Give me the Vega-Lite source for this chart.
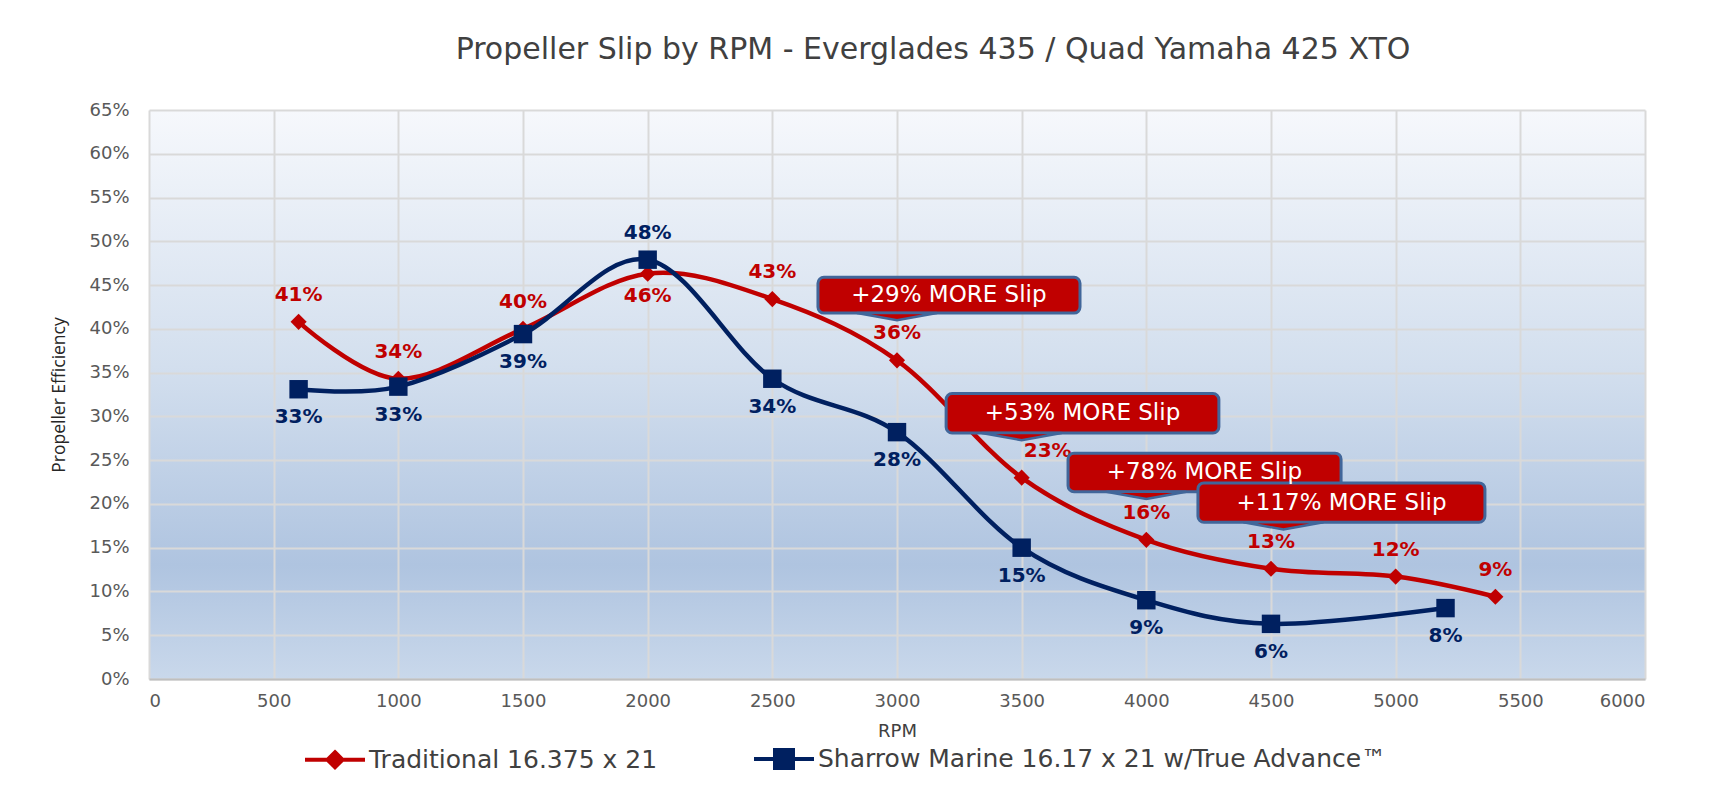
{
  "$schema": "https://vega.github.io/schema/vega-lite/v6.json",
  "width": 1496,
  "height": 569,
  "autosize": {"type": "none"},
  "padding": {"left": 149, "top": 110, "right": 82, "bottom": 116},
  "background": "white",
  "view": {
    "stroke": null,
    "fill": {
      "gradient": "linear", "x1": 0, "y1": 0, "x2": 0, "y2": 1,
      "stops": [
        {"offset": 0, "color": "#F6F8FC"},
        {"offset": 0.45, "color": "#D3DFEE"},
        {"offset": 0.8, "color": "#AFC4E0"},
        {"offset": 1, "color": "#C9D8EB"}
      ]
    }
  },
  "title": {
    "text": "Propeller Slip by RPM - Everglades 435 / Quad Yamaha 425 XTO",
    "font": "DejaVu Sans", "fontSize": 30, "fontWeight": "normal", "color": "#404040",
    "anchor": "middle", "dx": 36, "offset": 36
  },
  "datasets": {
    "slip": [
      {"series": "Traditional 16.375 x 21", "rpm": 600, "slip": 0.408},
      {"series": "Traditional 16.375 x 21", "rpm": 1000, "slip": 0.343},
      {"series": "Traditional 16.375 x 21", "rpm": 1500, "slip": 0.400},
      {"series": "Traditional 16.375 x 21", "rpm": 2000, "slip": 0.463},
      {"series": "Traditional 16.375 x 21", "rpm": 2500, "slip": 0.434},
      {"series": "Traditional 16.375 x 21", "rpm": 3000, "slip": 0.364},
      {"series": "Traditional 16.375 x 21", "rpm": 3500, "slip": 0.230},
      {"series": "Traditional 16.375 x 21", "rpm": 4000, "slip": 0.159},
      {"series": "Traditional 16.375 x 21", "rpm": 4500, "slip": 0.126},
      {"series": "Traditional 16.375 x 21", "rpm": 5000, "slip": 0.117},
      {"series": "Traditional 16.375 x 21", "rpm": 5400, "slip": 0.094},
      {"series": "Sharrow Marine 16.17 x 21 w/True Advance™", "rpm": 600, "slip": 0.331},
      {"series": "Sharrow Marine 16.17 x 21 w/True Advance™", "rpm": 1000, "slip": 0.334},
      {"series": "Sharrow Marine 16.17 x 21 w/True Advance™", "rpm": 1500, "slip": 0.394},
      {"series": "Sharrow Marine 16.17 x 21 w/True Advance™", "rpm": 2000, "slip": 0.479},
      {"series": "Sharrow Marine 16.17 x 21 w/True Advance™", "rpm": 2500, "slip": 0.343},
      {"series": "Sharrow Marine 16.17 x 21 w/True Advance™", "rpm": 3000, "slip": 0.282},
      {"series": "Sharrow Marine 16.17 x 21 w/True Advance™", "rpm": 3500, "slip": 0.150},
      {"series": "Sharrow Marine 16.17 x 21 w/True Advance™", "rpm": 4000, "slip": 0.090},
      {"series": "Sharrow Marine 16.17 x 21 w/True Advance™", "rpm": 4500, "slip": 0.063},
      {"series": "Sharrow Marine 16.17 x 21 w/True Advance™", "rpm": 5200, "slip": 0.081}
    ],
    "callouts": [
      {"label": "+29% MORE Slip", "x1": 2683, "x2": 3734, "y1": 0.418, "y2": 0.459, "xm": 3208, "ym": 0.4385, "px": 3000},
      {"label": "+53% MORE Slip", "x1": 3197, "x2": 4291, "y1": 0.281, "y2": 0.326, "xm": 3744, "ym": 0.3035, "px": 3500},
      {"label": "+78% MORE Slip", "x1": 3686, "x2": 4781, "y1": 0.214, "y2": 0.258, "xm": 4233, "ym": 0.236, "px": 4000},
      {"label": "+117% MORE Slip", "x1": 4207, "x2": 5358, "y1": 0.179, "y2": 0.224, "xm": 4783, "ym": 0.2015, "px": 4550}
    ]
  },
  "encoding": {
    "x": {
      "field": "rpm", "type": "quantitative", "title": "RPM",
      "scale": {"domain": [0, 6000], "nice": false},
      "axis": {"values": [0, 500, 1000, 1500, 2000, 2500, 3000, 3500, 4000, 4500, 5000, 5500, 6000], "format": "d", "labelPadding": 13, "titlePadding": 12}
    },
    "y": {
      "field": "slip", "type": "quantitative", "title": "Propeller Efficiency",
      "scale": {"domain": [0, 0.65], "nice": false},
      "axis": {"values": [0, 0.05, 0.1, 0.15, 0.2, 0.25, 0.3, 0.35, 0.4, 0.45, 0.5, 0.55, 0.6, 0.65], "format": ".0%", "labelPadding": 20, "titlePadding": 20, "domain": false, "titleFont": "Open Sans", "titleFontSize": 17.5, "titleColor": "#262626"}
    }
  },
  "layer": [
    {
      "data": {"name": "slip"},
      "mark": {"type": "line", "interpolate": "cardinal", "strokeWidth": 4.5},
      "encoding": {
        "color": {
          "field": "series", "type": "nominal",
          "scale": {"domain": ["Traditional 16.375 x 21", "Sharrow Marine 16.17 x 21 w/True Advance™"], "range": ["#C00000", "#002060"]},
          "legend": {
            "title": null, "orient": "none", "direction": "horizontal",
            "legendX": 154, "legendY": 617, "padding": 0,
            "symbolSize": 3600, "symbolStrokeWidth": 4, "columnPadding": 88, "labelOffset": 2,
            "labelFont": "DejaVu Sans", "labelFontSize": 25, "labelColor": "#404040", "labelLimit": 700,
            "encode": {
              "symbols": {
                "update": {
                  "shape": {"signal": "datum.value === 'Traditional 16.375 x 21' ? 'M -1 0 L 1 0 M 0 -0.25 L 0.25 0 L 0 0.25 L -0.25 0 Z' : 'M -1 0 L 1 0 M -0.3 -0.3 L 0.3 -0.3 L 0.3 0.3 L -0.3 0.3 Z'"},
                  "fill": {"signal": "scale('color', datum.value)"},
                  "stroke": {"signal": "scale('color', datum.value)"},
                  "strokeWidth": {"value": 4},
                  "opacity": {"value": 1}
                }
              }
            }
          }
        }
      }
    },
    {
      "data": {"name": "slip"},
      "transform": [{"filter": "datum.series === 'Traditional 16.375 x 21'"}],
      "mark": {"type": "point", "shape": "diamond", "size": 260, "filled": true, "opacity": 1, "strokeWidth": 0, "fill": "#C00000"}
    },
    {
      "data": {"name": "slip"},
      "transform": [{"filter": "datum.series !== 'Traditional 16.375 x 21'"}],
      "mark": {"type": "point", "shape": "square", "size": 340, "filled": true, "opacity": 1, "strokeWidth": 0, "fill": "#002060"}
    },
    {
      "data": {"name": "slip"},
      "transform": [{"filter": "datum.series === 'Traditional 16.375 x 21' && datum.rpm !== 2000 && datum.rpm !== 3500"}],
      "mark": {"type": "text", "dy": -27, "font": "DejaVu Sans", "fontSize": 20, "fontWeight": "bold", "color": "#C00000"},
      "encoding": {"text": {"field": "slip", "type": "quantitative", "format": ".0%"}}
    },
    {
      "data": {"name": "slip"},
      "transform": [{"filter": "datum.series === 'Traditional 16.375 x 21' && datum.rpm === 2000"}],
      "mark": {"type": "text", "dy": 22, "font": "DejaVu Sans", "fontSize": 20, "fontWeight": "bold", "color": "#C00000"},
      "encoding": {"text": {"field": "slip", "type": "quantitative", "format": ".0%"}}
    },
    {
      "data": {"name": "slip"},
      "transform": [{"filter": "datum.series === 'Traditional 16.375 x 21' && datum.rpm === 3500"}],
      "mark": {"type": "text", "dy": -27, "dx": 26, "font": "DejaVu Sans", "fontSize": 20, "fontWeight": "bold", "color": "#C00000"},
      "encoding": {"text": {"field": "slip", "type": "quantitative", "format": ".0%"}}
    },
    {
      "data": {"name": "slip"},
      "transform": [{"filter": "datum.series !== 'Traditional 16.375 x 21' && datum.rpm !== 2000"}],
      "mark": {"type": "text", "dy": 28, "font": "DejaVu Sans", "fontSize": 20, "fontWeight": "bold", "color": "#002060"},
      "encoding": {"text": {"field": "slip", "type": "quantitative", "format": ".0%"}}
    },
    {
      "data": {"name": "slip"},
      "transform": [{"filter": "datum.series !== 'Traditional 16.375 x 21' && datum.rpm === 2000"}],
      "mark": {"type": "text", "dy": -27, "font": "DejaVu Sans", "fontSize": 20, "fontWeight": "bold", "color": "#002060"},
      "encoding": {"text": {"field": "slip", "type": "quantitative", "format": ".0%"}}
    },
    {
      "data": {"name": "callouts"},
      "mark": {"type": "rect", "fill": "#C00000", "stroke": "#41669A", "strokeWidth": 3, "cornerRadius": 6},
      "encoding": {
        "x": {"field": "x1", "type": "quantitative"},
        "x2": {"field": "x2"},
        "y": {"field": "y1", "type": "quantitative"},
        "y2": {"field": "y2"}
      }
    },
    {
      "data": {"name": "callouts"},
      "mark": {"type": "point", "shape": "M -1 0 L 0 0.18 L 1 0 Z", "size": 6400, "filled": true, "fill": "#C00000", "stroke": "#41669A", "strokeWidth": 2.5, "opacity": 1},
      "encoding": {
        "x": {"field": "px", "type": "quantitative"},
        "y": {"field": "y1", "type": "quantitative"}
      }
    },
    {
      "data": {"name": "callouts"},
      "mark": {"type": "text", "font": "DejaVu Sans", "fontSize": 23, "color": "white", "baseline": "middle", "align": "center"},
      "encoding": {
        "x": {"field": "xm", "type": "quantitative"},
        "y": {"field": "ym", "type": "quantitative"},
        "text": {"field": "label"}
      }
    }
  ],
  "config": {
    "axis": {
      "grid": true, "gridColor": "#D9D9D9", "gridWidth": 2,
      "ticks": false, "domainColor": "#BFBFBF", "domainWidth": 2,
      "labelFont": "DejaVu Sans", "labelFontSize": 18, "labelColor": "#595959",
      "titleFont": "DejaVu Sans", "titleFontSize": 18, "titleFontWeight": "normal", "titleColor": "#404040"
    }
  }
}
